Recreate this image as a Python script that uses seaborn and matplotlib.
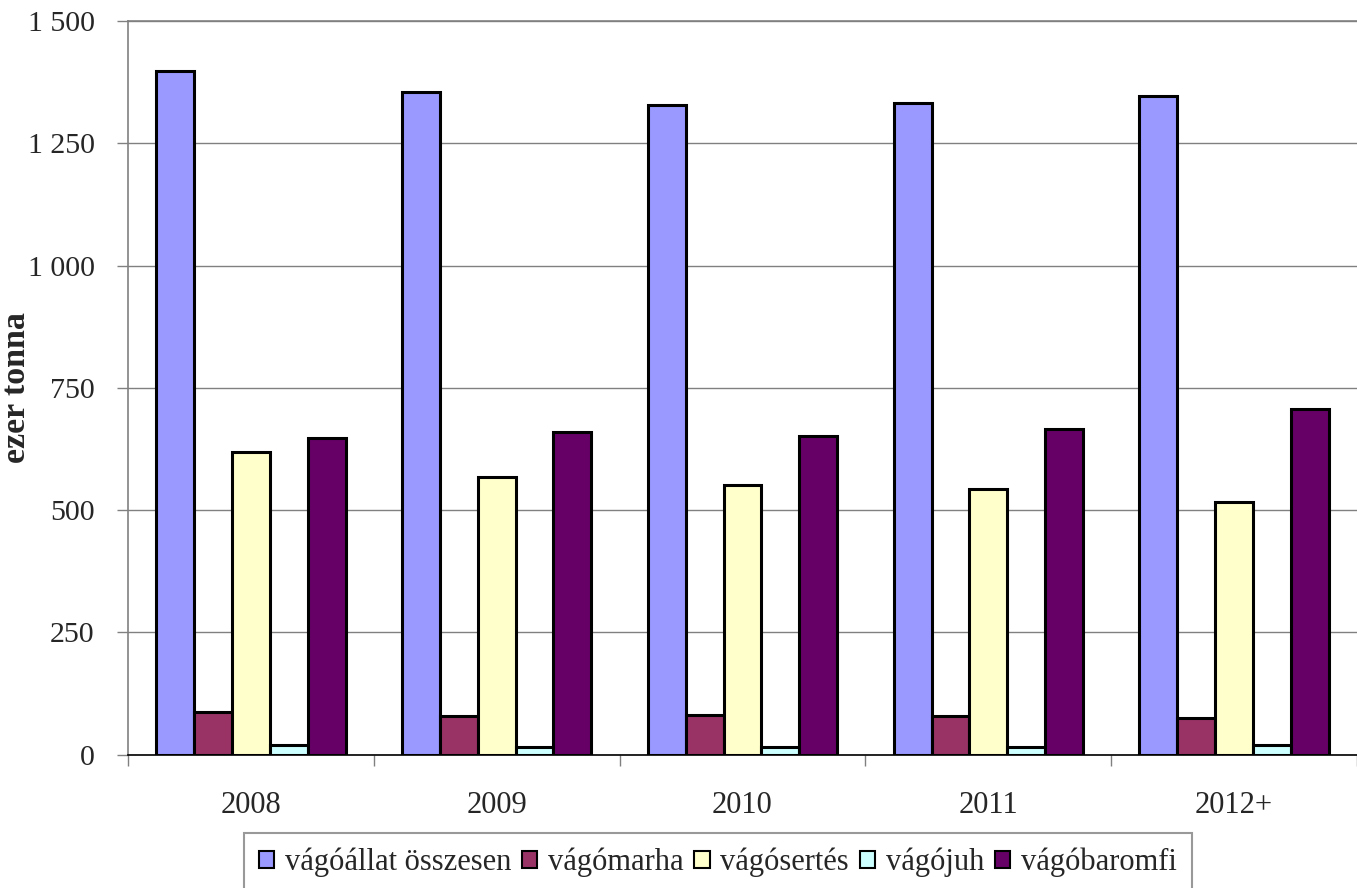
import matplotlib
matplotlib.use("Agg")
import matplotlib.pyplot as plt
import numpy as np
import pandas as pd
import seaborn as sns

# data (ezer tonna)
years = ["2008", "2009", "2010", "2011", "2012+"]
series = ["vágóállat összesen", "vágómarha", "vágósertés", "vágójuh", "vágóbaromfi"]
osszesen = [1398, 1355, 1328, 1332, 1347]
marha = [88, 80, 82, 80, 76]
sertes = [619, 568, 552, 544, 517]
juh = [20, 16, 16, 16, 20]
baromfi = [648, 660, 652, 666, 707]
y_ticks = [0, 250, 500, 750, 1000, 1250, 1500]
y_tick_labels = ["0", "250", "500", "750", "1 000", "1 250", "1 500"]

colors = ["#9999FF", "#993366", "#FFFFCC", "#CCFFFF", "#660066"]

df = pd.DataFrame({
    "ev": years * 5,
    "sorozat": np.repeat(series, len(years)),
    "ertek": osszesen + marha + sertes + juh + baromfi,
})

sns.set_style("white")
plt.rcParams["font.family"] = ["Liberation Serif", "DejaVu Serif"]

fig = plt.figure(figsize=(13.57, 8.88), dpi=100)
ax = fig.add_axes([0.0943, 0.150, 0.9057, 0.8264])

sns.barplot(data=df, x="ev", y="ertek", hue="sorozat", order=years,
            hue_order=series, palette=colors, width=0.77,
            edgecolor="black", linewidth=2.2, saturation=1, ax=ax)

ax.set_ylim(0, 1500)
ax.set_xlim(-0.5, len(years) - 0.5)
ax.set_yticks(y_ticks)
ax.set_yticklabels(y_tick_labels, fontsize=21.5)
ax.tick_params(axis="y", length=8, width=1, color="#808080", direction="out",
               left=True, pad=16)
ax.set_xticks(range(len(years)))
ax.set_xticklabels(years, fontsize=22)
ax.tick_params(axis="x", which="major", length=0, pad=26)
ax.set_xticks(np.arange(-0.5, len(years), 1.0), minor=True)
ax.tick_params(axis="x", which="minor", length=8, width=1, color="#808080",
               direction="out", bottom=True)

ax.yaxis.grid(True, color="#808080", linewidth=1)
ax.set_axisbelow(True)
for side in ["left", "top", "bottom"]:
    ax.spines[side].set_color("#808080")
    ax.spines[side].set_linewidth(1.2)
ax.spines["bottom"].set_color("black")
ax.spines["right"].set_visible(False)

ax.set_xlabel(None)
ax.set_ylabel("ezer tonna", fontsize=24.5, fontweight="bold")
ax.yaxis.set_label_coords(-0.078, 0.5)

ax.legend(loc="upper center", bbox_to_anchor=(0.48, -0.106), ncol=5,
          fontsize=22, frameon=True, fancybox=False, edgecolor="#808080",
          handlelength=0.5, handleheight=0.5, handletextpad=0.35,
          columnspacing=0.35, borderpad=0.5, borderaxespad=0)
leg = ax.get_legend()
leg.get_frame().set_linewidth(1.5)
for h in leg.legend_handles:
    h.set_edgecolor("black")
    h.set_linewidth(1.5)

plt.savefig("out.png", dpi=100)
